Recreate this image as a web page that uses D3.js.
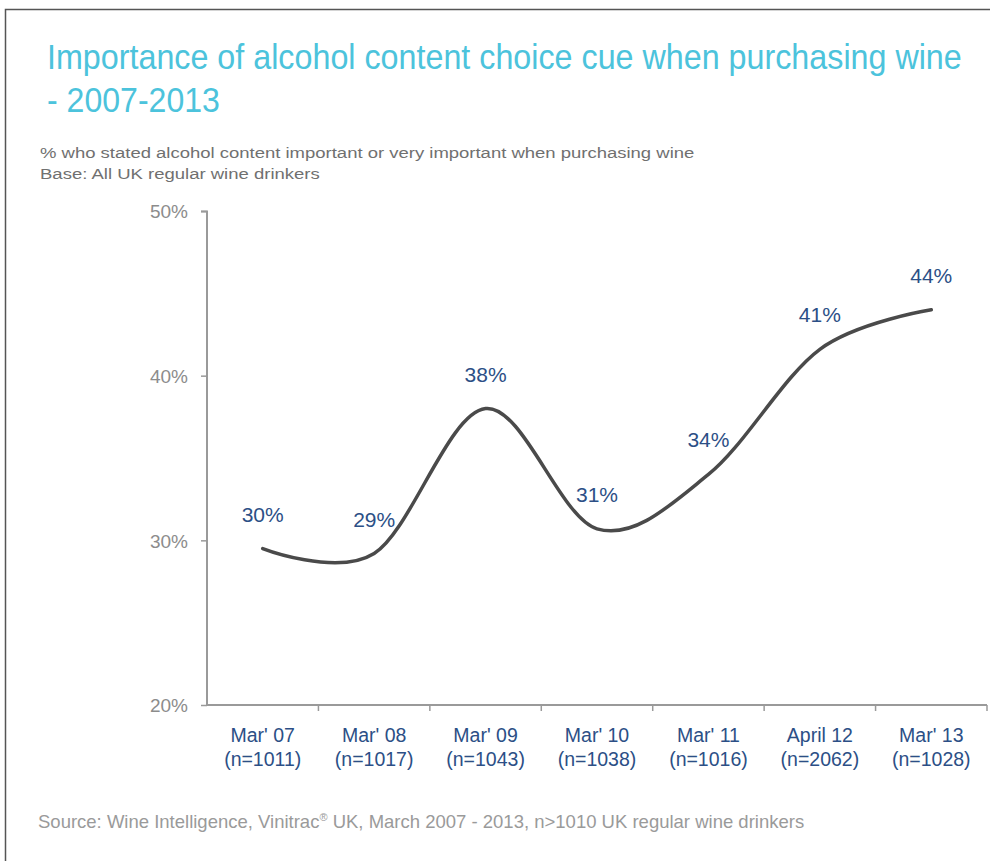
<!DOCTYPE html>
<html><head><meta charset="utf-8">
<script src="https://cdn.jsdelivr.net/npm/d3@7"></script>
<style>body{margin:0;background:#fff}svg{display:block}</style>
</head><body>
<script>
const categories = ["Mar' 07","Mar' 08","Mar' 09","Mar' 10","Mar' 11","April 12","Mar' 13"];
const sampleSizes = ["(n=1011)","(n=1017)","(n=1043)","(n=1038)","(n=1016)","(n=2062)","(n=1028)"];
const values = [29.5, 29.2, 38.0, 30.7, 34.0, 41.6, 44.0];
const valueLabels = ["30%","29%","38%","31%","34%","41%","44%"];
const yTicks = [20, 30, 40, 50];

const W = 990, H = 861;
const svg = d3.select("body").append("svg").attr("width", W).attr("height", H);

// frame
svg.append("path").attr("d", "M5.5,861V9.5H990").attr("fill","none").attr("stroke","#555").attr("stroke-width",1.5);

// helper: text squeezed horizontally to a given width
function fitText(xPos, yPos, size, color, width, str) {
  const t = svg.append("text").attr("font-family","Liberation Sans, Arial, sans-serif")
    .attr("font-size", size).attr("fill", color).text(str);
  const natural = t.node().getComputedTextLength();
  t.attr("transform", `translate(${xPos},${yPos}) scale(${width / natural},1)`);
  return t;
}

// titles
fitText(47, 69, 35, "#4cc3dc", 915, "Importance of alcohol content choice cue when purchasing wine");
fitText(47, 112, 35, "#4cc3dc", 173, "- 2007-2013");
fitText(40, 158, 15.5, "#707070", 655, "% who stated alcohol content important or very important when purchasing wine");
fitText(40, 179, 15.5, "#707070", 280, "Base: All UK regular wine drinkers");

// scales
const x = d3.scaleBand().domain(categories).range([207, 987]);
const y = d3.scaleLinear().domain([20, 50]).range([705, 211]);

// y axis
const yAxis = svg.append("g").attr("transform","translate(207,0)")
  .call(d3.axisLeft(y).tickValues(yTicks).tickSize(6).tickFormat(d => d + "%"));
yAxis.select(".domain").attr("stroke","#9a9a9a").attr("stroke-width",2).attr("d","M-6,211.5H0V705");
yAxis.selectAll(".tick line").attr("stroke","#9a9a9a").attr("stroke-width",1.5);
yAxis.selectAll(".tick text").attr("x",-19).attr("dy","0.36em").attr("font-family","Liberation Sans, Arial, sans-serif")
  .attr("font-size",19).attr("fill","#8c8c8c");

// x axis
const xAxis = svg.append("g").attr("transform","translate(0,705)")
  .call(d3.axisBottom(x).tickSize(0).tickFormat(""));
xAxis.select(".domain").attr("stroke","#9a9a9a").attr("stroke-width",2).attr("d","M207,0H987");
const bounds = categories.map(c => x(c)).concat([x.range()[1]]);
xAxis.selectAll(".sep").data(bounds.slice(1)).enter().append("line").attr("class","sep")
  .attr("x1", d => d).attr("x2", d => d).attr("y1",0).attr("y2",6).attr("stroke","#9a9a9a").attr("stroke-width",1.5);
xAxis.selectAll(".tick").each(function(d, i) {
  const g = d3.select(this);
  g.append("text").attr("y",37).attr("text-anchor","middle").attr("font-family","Liberation Sans, Arial, sans-serif")
    .attr("font-size",19.5).attr("fill","#2c4f86").text(categories[i]);
  g.append("text").attr("y",61).attr("text-anchor","middle").attr("font-family","Liberation Sans, Arial, sans-serif")
    .attr("font-size",19.5).attr("fill","#2c4f86").text(sampleSizes[i]);
});

// line
const cx = c => x(c) + x.bandwidth() / 2;
const line = d3.line().x((d, i) => cx(categories[i])).y(d => y(d)).curve(d3.curveCardinal.tension(0));
svg.append("path").datum(values).attr("d", line).attr("fill","none")
  .attr("stroke","#4a4a4a").attr("stroke-width",3.5).attr("stroke-linecap","round");

// data labels
svg.selectAll(".vl").data(values).enter().append("text").attr("class","vl")
  .attr("x", (d, i) => cx(categories[i]))
  .attr("y", d => y(d) - 27)
  .attr("text-anchor","middle").attr("font-family","Liberation Sans, Arial, sans-serif")
  .attr("font-size",21).attr("fill","#2c4f86").text((d, i) => valueLabels[i]);

// source
const src = svg.append("text").attr("x",38).attr("y",828).attr("font-family","Liberation Sans, Arial, sans-serif")
  .attr("font-size",18.5).attr("fill","#9a9a9a");
src.append("tspan").text("Source: Wine Intelligence, Vinitrac");
src.append("tspan").attr("font-size",11).attr("dy",-7).text("®");
src.append("tspan").attr("dy",7).text(" UK, March 2007 - 2013, n>1010 UK regular wine drinkers");
</script>
</body></html>
